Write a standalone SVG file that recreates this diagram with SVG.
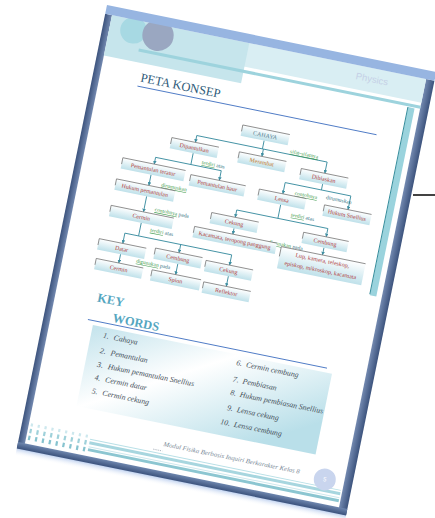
<svg xmlns="http://www.w3.org/2000/svg" width="435" height="518" viewBox="0 0 435 518">
<defs>
  <linearGradient id="boxg" x1="0" y1="0" x2="0" y2="1">
    <stop offset="0" stop-color="#ffffff"/>
    <stop offset="1" stop-color="#bfe1ea"/>
  </linearGradient>
  <linearGradient id="kwg" x1="0" y1="0" x2="1" y2="0.6">
    <stop offset="0" stop-color="#c3e3ec"/>
    <stop offset="0.45" stop-color="#ffffff"/>
    <stop offset="1" stop-color="#b9dfe9"/>
  </linearGradient>
  <linearGradient id="edgeL" x1="0" y1="0" x2="1" y2="0">
    <stop offset="0" stop-color="#3c537d"/>
    <stop offset="1" stop-color="#7389b0"/>
  </linearGradient>
  <linearGradient id="edgeR" x1="0" y1="0" x2="1" y2="0">
    <stop offset="0" stop-color="#7389b0"/>
    <stop offset="1" stop-color="#3c537d"/>
  </linearGradient>
  <linearGradient id="edgeB" x1="0" y1="0" x2="0" y2="1">
    <stop offset="0" stop-color="#6e86ae"/>
    <stop offset="1" stop-color="#3c537d"/>
  </linearGradient>
  <linearGradient id="glow" x1="0" y1="0" x2="0" y2="1">
    <stop offset="0" stop-color="#b9cdee"/>
    <stop offset="1" stop-color="#ffffff" stop-opacity="0"/>
  </linearGradient>
  <marker id="arr" viewBox="0 0 6 6" refX="5.5" refY="3" markerWidth="4" markerHeight="4" orient="auto">
    <path d="M0,0 L6,3 L0,6 z" fill="#3f8fa2"/>
  </marker>
</defs>
<style>
  .box{fill:url(#boxg);}
  .edge{fill:none;stroke:#6b6b6b;stroke-width:0.7;}
  .nt{font-family:"Liberation Serif",serif;font-size:6px;fill:#b23c3c;text-anchor:middle;}
  .lb{font-family:"Liberation Serif",serif;font-size:5.5px;fill:#2f6f80;text-anchor:middle;}
  .g{fill:#3f9b4e;text-decoration:underline;}
  .cn{fill:none;stroke:#3f8fa2;stroke-width:0.9;}
  .ar{marker-end:url(#arr);}
  .kw{font-family:"Liberation Serif",serif;font-style:italic;font-size:7.8px;fill:#46505a;}
  .num{text-anchor:end;}
  .head{font-family:"Liberation Serif",serif;fill:#55a6bf;font-weight:bold;font-size:12.5px;}
  .uline{stroke:#4a78c4;stroke-width:0.9;}
</style>
<rect width="435" height="518" fill="#ffffff"/>
<line x1="413" y1="195" x2="435" y2="195" stroke="#151515" stroke-width="1.6"/>
<g id="page" transform="translate(107 5) rotate(11.5)">
  <rect x="0" y="452" width="336" height="8" fill="url(#glow)"/>
  <rect x="7" y="9" width="321" height="437" fill="#ffffff"/>
  <rect x="0" y="9" width="7" height="443" fill="url(#edgeL)"/>
  <rect x="327.5" y="9" width="8.5" height="443" fill="url(#edgeR)"/>
  <rect x="0" y="446" width="336" height="6.5" fill="url(#edgeB)"/>
  <g id="header">
    <rect x="7" y="9" width="320.5" height="24" fill="#d9eef3"/>
    <rect x="7" y="9" width="140" height="41" fill="#c6e5ec"/>
    <circle cx="31" cy="19.5" r="13.3" fill="#a7d9e3"/>
    <circle cx="56" cy="19.5" r="15.7" fill="#9aa7c1"/>
    <line x1="40" y1="37.8" x2="327.5" y2="37.8" stroke="#9dd3dd" stroke-width="3"/>
    <rect x="0" y="0" width="336" height="9" fill="#97b5e1"/>
    <text x="274.5" y="23" font-family="Liberation Sans, sans-serif" font-size="9.5" fill="#c5d0e6" text-anchor="middle">Physics</text>
    <rect x="315.5" y="40" width="6.5" height="192" fill="#9ad3dd"/>
    <line x1="315.2" y1="40" x2="315.2" y2="231" stroke="#2c8797" stroke-width="0.9"/>
  </g>
  <g id="title">
    <text x="47.5" y="68.5" font-family="Liberation Serif, serif" font-size="12.5" fill="#2e5a78">PETA KONSEP</text>
    <line class="uline" x1="46" y1="73.4" x2="290" y2="73.4"/>
  </g>
  <g id="connectors">
    <path class="cn" d="M181,101.5 V110 M114,110 H247"/>
    <path class="cn ar" d="M114,110 V117"/>
    <path class="cn ar" d="M182,110 V117.5"/>
    <path class="cn ar" d="M247,110 V121.5"/>
    <path class="cn" d="M114,128 V139.6 M78,139.6 H145"/>
    <path class="cn ar" d="M78,139.6 V146.5"/>
    <path class="cn ar" d="M145,139.6 V149.5"/>
    <path class="cn ar" d="M77,157.5 V168.5"/>
    <path class="cn ar" d="M77,179.5 V195.5"/>
    <path class="cn" d="M77,206.5 V220 M63,220 H172"/>
    <path class="cn ar" d="M63,220 V230.5"/>
    <path class="cn ar" d="M120,220 V228.5"/>
    <path class="cn ar" d="M172,220 V230.5"/>
    <path class="cn ar" d="M63,241.5 V250.5"/>
    <path class="cn ar" d="M121,239.5 V250.5"/>
    <path class="cn ar" d="M173,241.5 V252"/>
    <path class="cn" d="M247,132.5 V138.5 M210,138.5 H277"/>
    <path class="cn ar" d="M210,138.5 V150"/>
    <path class="cn ar" d="M277,138.5 V152.5"/>
    <path class="cn" d="M210,161 V175 M168,175 H261"/>
    <path class="cn ar" d="M168,175 V182.5"/>
    <path class="cn ar" d="M261,175 V183.5"/>
    <path class="cn ar" d="M169,193.5 V199.5"/>
    <path class="cn ar" d="M261,194.5 V202"/>
  </g>
  <g id="labels">
    <text class="lb" x="223" y="108.5"><tspan class="g">sifat-sifatnya</tspan></text>
    <text class="lb" x="136" y="137"><tspan class="g">terdiri</tspan> atas</text>
    <text class="lb" x="102" y="167"><tspan class="g">dirumuskan</tspan></text>
    <text class="lb" x="233" y="148.5"><tspan class="g">contohnya</tspan></text>
    <text class="lb" x="266" y="146.5">dirumuskan</text>
    <text class="lb" x="105" y="192.5"><tspan class="g">contohnya</tspan> pada</text>
    <text class="lb" x="234" y="170.5"><tspan class="g">terdiri</tspan> atas</text>
    <text class="lb" x="99" y="213.5"><tspan class="g">terdiri</tspan> atas</text>
    <text class="lb" x="223" y="201.5"><tspan class="g">digunakan</tspan> pada</text>
    <text class="lb" x="97" y="246.5"><tspan class="g">digunakan</tspan> pada</text>
  </g>
  <g id="n-cahaya"><rect class="box" x="157" y="90.5" width="48" height="11"/><path class="edge" d="M157,97 V90.5 H205"/><text class="nt" x="181" y="98.2" style="fill:#557f90">CAHAYA</text></g>
  <g id="n-dipantulkan"><rect class="box" x="90" y="117" width="48" height="11"/><path class="edge" d="M90,123.5 V117 H138"/><text class="nt" x="114" y="124.6">Dipantulkan</text></g>
  <g id="n-merambat"><rect class="box" x="159" y="117.5" width="48" height="11"/><path class="edge" d="M159,124 V117.5 H207"/><text class="nt" x="183" y="125.1" style="fill:#c47a2c">Merambat</text></g>
  <g id="n-dibiaskan"><rect class="box" x="223" y="121.5" width="48" height="11"/><path class="edge" d="M223,128 V121.5 H271"/><text class="nt" x="247" y="129.1">Dibiaskan</text></g>
  <g id="n-pemantulan-teratur"><rect class="box" x="46" y="146.5" width="64" height="11"/><path class="edge" d="M46,153 V146.5 H110"/><text class="nt" x="78" y="154.1">Pemantulan teratur</text></g>
  <g id="n-pemantulan-baur"><rect class="box" x="116" y="149.5" width="56" height="11"/><path class="edge" d="M116,156 V149.5 H172"/><text class="nt" x="144" y="157.1">Pemantulan baur</text></g>
  <g id="n-lensa"><rect class="box" x="186" y="150" width="48" height="11"/><path class="edge" d="M186,156.5 V150 H234"/><text class="nt" x="210" y="157.6">Lensa</text></g>
  <g id="n-hukum-snellius"><rect class="box" x="253" y="152.5" width="48" height="11"/><path class="edge" d="M253,159 V152.5 H301"/><text class="nt" x="277" y="160.1">Hukum Snellius</text></g>
  <g id="n-hukum-pemantulan"><rect class="box" x="44" y="168.5" width="60" height="11"/><path class="edge" d="M44,175 V168.5 H104"/><text class="nt" x="74" y="176.1">Hukum pemantulan</text></g>
  <g id="n-cermin"><rect class="box" x="44" y="195.5" width="64" height="11"/><path class="edge" d="M44,202 V195.5 H108"/><text class="nt" x="76" y="203.1">Cermin</text></g>
  <g id="n-cekung-lensa"><rect class="box" x="144" y="182.5" width="48" height="11"/><path class="edge" d="M144,189 V182.5 H192"/><text class="nt" x="168" y="190.1">Cekung</text></g>
  <g id="n-cembung-lensa"><rect class="box" x="238" y="183.5" width="46" height="11"/><path class="edge" d="M238,190 V183.5 H284"/><text class="nt" x="261" y="191.1">Cembung</text></g>
  <g id="n-kacamata"><rect class="box" x="130" y="199.5" width="84" height="11"/><path class="edge" d="M130,206 V199.5 H214"/><text class="nt" x="172" y="207.1">Kacamata, teropong panggung</text></g>
  <g id="n-lup"><rect class="box" x="219" y="202" width="86" height="22"/><path class="edge" d="M219,212 V202 H305"/><text class="nt" x="262" y="209.3">Lup, kamera, teleskop,</text><text class="nt" x="262" y="219.3">episkop, mikroskop, kacamata</text></g>
  <g id="n-datar"><rect class="box" x="39" y="230.5" width="48" height="11"/><path class="edge" d="M39,237 V230.5 H87"/><text class="nt" x="63" y="238.1">Datar</text></g>
  <g id="n-cembung-cermin"><rect class="box" x="96" y="228.5" width="48" height="11"/><path class="edge" d="M96,235 V228.5 H144"/><text class="nt" x="120" y="236.1">Cembung</text></g>
  <g id="n-cekung-cermin"><rect class="box" x="148" y="230.5" width="48" height="11"/><path class="edge" d="M148,237 V230.5 H196"/><text class="nt" x="172" y="238.1">Cekung</text></g>
  <g id="n-cermin-datar"><rect class="box" x="40" y="250.5" width="48" height="11"/><path class="edge" d="M40,257 V250.5 H88"/><text class="nt" x="64" y="258.1">Cermin</text></g>
  <g id="n-spion"><rect class="box" x="97" y="250.5" width="50" height="11"/><path class="edge" d="M97,257 V250.5 H147"/><text class="nt" x="122" y="258.1">Spion</text></g>
  <g id="n-reflektor"><rect class="box" x="150" y="252" width="48" height="11"/><path class="edge" d="M150,258.5 V252 H198"/><text class="nt" x="174" y="259.6">Reflektor</text></g>
  <g id="keywords">
    <text class="head" x="49" y="292.5">KEY</text>
    <text class="head" x="68" y="309.5">WORDS</text>
    <rect x="50" y="316.5" width="244" height="82.5" fill="url(#kwg)"/>
    <line class="uline" x1="44" y1="312" x2="288" y2="312"/>
    <text class="kw num" x="68" y="327">1.</text><text class="kw" x="73" y="327">Cahaya</text>
    <text class="kw num" x="68" y="342.5">2.</text><text class="kw" x="73" y="342.5">Pemantulan</text>
    <text class="kw num" x="68" y="356.5">3.</text><text class="kw" x="73" y="356.5">Hukum pemantulan Snellius</text>
    <text class="kw num" x="68" y="369.8">4.</text><text class="kw" x="73" y="369.8">Cermin datar</text>
    <text class="kw num" x="68" y="383.5">5.</text><text class="kw" x="73" y="383.5">Cermin cekung</text>
    <text class="kw num" x="204" y="327">6.</text><text class="kw" x="208" y="327">Cermin cembung</text>
    <text class="kw num" x="204" y="344">7.</text><text class="kw" x="208" y="344">Pembiasan</text>
    <text class="kw num" x="204" y="357.5">8.</text><text class="kw" x="208" y="357.5">Hukum pembiasan Snellius</text>
    <text class="kw num" x="204" y="373">9.</text><text class="kw" x="208" y="373">Lensa cekung</text>
    <text class="kw num" x="204" y="388">10.</text><text class="kw" x="208" y="388">Lensa cembung</text>
  </g>
  <g id="footer">
    <g fill="#9fd1da">
      <rect x="9" y="425" width="2.2" height="3" fill="#cde8ee"/><rect x="16" y="425" width="2.2" height="3" fill="#cde8ee"/><rect x="23" y="425" width="2.2" height="3" fill="#cde8ee"/><rect x="30" y="425" width="2.2" height="3" fill="#cde8ee"/><rect x="37" y="425" width="2.2" height="3" fill="#cde8ee"/><rect x="44" y="425" width="2.2" height="3" fill="#cde8ee"/><rect x="51" y="425" width="2.2" height="3" fill="#cde8ee"/><rect x="58" y="425" width="2.2" height="3" fill="#cde8ee"/><rect x="65" y="425" width="2.2" height="3" fill="#cde8ee"/>
      <rect x="9" y="430.5" width="2.2" height="4.5"/><rect x="16" y="430.5" width="2.2" height="4.5"/><rect x="23" y="430.5" width="2.2" height="4.5"/><rect x="30" y="430.5" width="2.2" height="4.5"/><rect x="37" y="430.5" width="2.2" height="4.5"/><rect x="44" y="430.5" width="2.2" height="4.5"/><rect x="51" y="430.5" width="2.2" height="4.5"/><rect x="58" y="430.5" width="2.2" height="4.5"/><rect x="65" y="430.5" width="2.2" height="4.5"/>
      <rect x="9" y="437.5" width="2.2" height="4.5" fill="#86c3cf"/><rect x="16" y="437.5" width="2.2" height="4.5" fill="#86c3cf"/><rect x="23" y="437.5" width="2.2" height="4.5" fill="#86c3cf"/><rect x="30" y="437.5" width="2.2" height="4.5" fill="#86c3cf"/><rect x="37" y="437.5" width="2.2" height="4.5" fill="#86c3cf"/><rect x="44" y="437.5" width="2.2" height="4.5" fill="#86c3cf"/><rect x="51" y="437.5" width="2.2" height="4.5" fill="#86c3cf"/><rect x="58" y="437.5" width="2.2" height="4.5" fill="#86c3cf"/><rect x="65" y="437.5" width="2.2" height="4.5" fill="#86c3cf"/>
    </g>
    <rect x="70" y="428.5" width="256" height="1" fill="#b9e0e7"/>
    <rect x="70" y="431" width="256" height="3" fill="#a7d6df"/>
    <rect x="70" y="436" width="256" height="1" fill="#cfe9ee"/>
    <rect x="70" y="438" width="256" height="3" fill="#8cc6d1"/>
    <line x1="134" y1="426" x2="143" y2="426" stroke="#8894a4" stroke-width="0.8" stroke-dasharray="1 1.2"/>
    <text x="143" y="421" font-family="Liberation Serif, serif" font-style="italic" font-size="6.5" fill="#7a8a98" textLength="139" lengthAdjust="spacingAndGlyphs">Modul Fisika Berbasis Inquiri Berkarakter Kelas 8</text>
    <circle cx="308" cy="421.5" r="11" fill="#c9d5ee"/>
    <text x="308" y="423.5" font-family="Liberation Sans, sans-serif" font-size="6" fill="#ffffff" text-anchor="middle">5</text>
  </g>
</g>
</svg>
